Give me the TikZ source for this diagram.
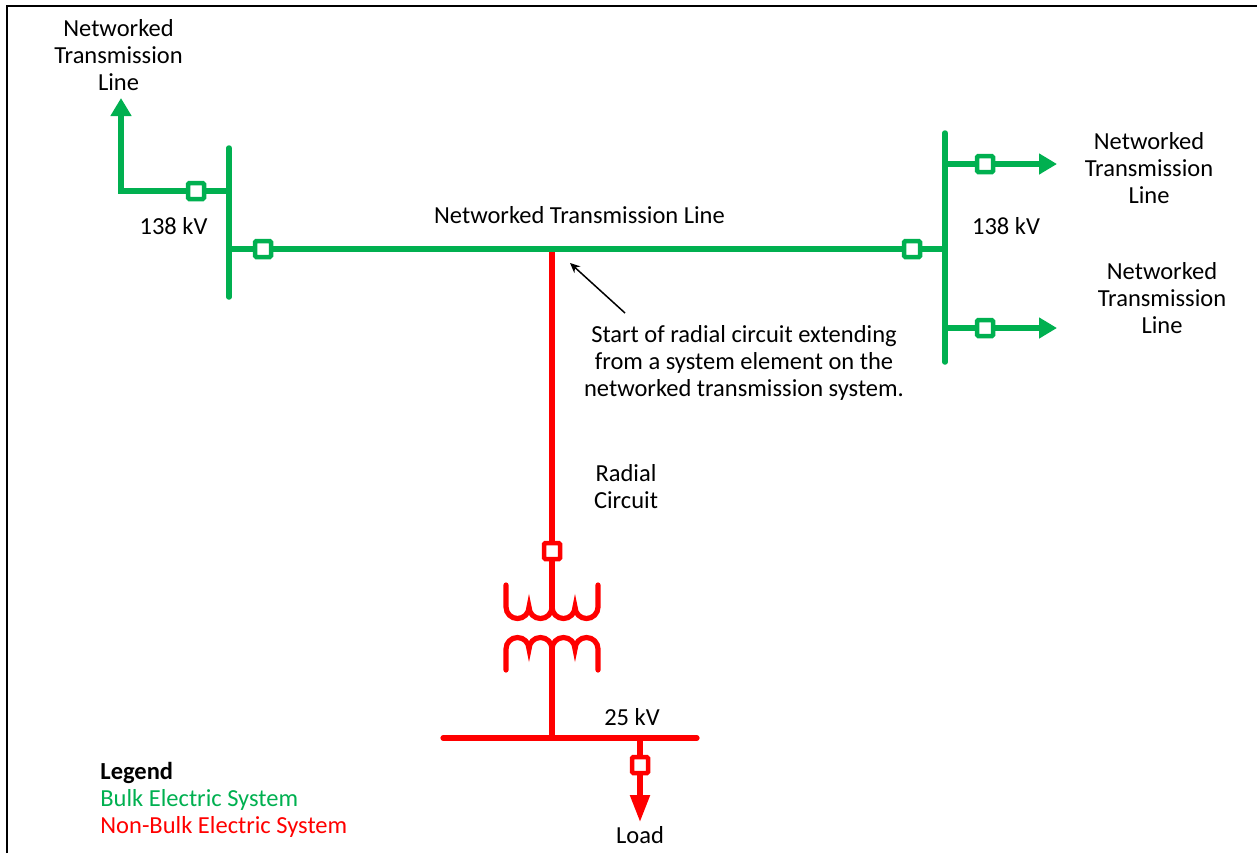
\documentclass[tikz,border=0pt]{standalone}
\usepackage{fontspec}
\setmainfont{Carlito}
\usetikzlibrary{arrows.meta}
\definecolor{besgreen}{RGB}{0,176,80}
\definecolor{nbesred}{RGB}{255,0,0}
\tikzset{>={Stealth[length=5pt,width=4.5pt]}}
\tikzset{
    bes/.style={besgreen, line width=2.75pt, line cap=round},
    nbes/.style={nbesred, line width=2.6pt, line cap=round},
    breaker/.style={rectangle, minimum size=8pt, inner sep=0pt,
        line width=2.25pt, rounded corners=0.6pt},
    gbreaker/.style={breaker, draw=besgreen, fill=white},
    rbreaker/.style={breaker, draw=nbesred, fill=white},
    gtip/.style={-{Triangle[length=9pt,width=10pt]}},
    rtip/.style={-{Triangle[length=13.5pt,width=9.5pt]}},
    lbl/.style={align=center, font=\fontsize{12.25}{13.5}\selectfont}
}

\begin{document}
\begin{tikzpicture}[x=0.5pt, y=-0.5pt]
    \useasboundingbox (0,0) rectangle (1257,853);
    \draw[line width=1.25pt] (7,853) -- (7,6) -- (1257,6);

    % buses and junction points
    \coordinate (lbtop) at (229,148);
    \coordinate (lbbot) at (229,297);
    \coordinate (rbtop) at (945,133);
    \coordinate (rbbot) at (945,362);
    \coordinate (lj1) at (229,191);
    \coordinate (lj2) at (229,249);
    \coordinate (rj1) at (945,164);
    \coordinate (rj2) at (945,249);
    \coordinate (rj3) at (945,328);
    \coordinate (tee) at (552,249);
    \coordinate (lcorner) at (121,191);
    \coordinate (lend) at (121,98);
    \coordinate (rend1) at (1057,164);
    \coordinate (rend3) at (1057,328);

    % radial circuit
    \coordinate (pcusp) at (552,607);
    \coordinate (scusp) at (552,649);
    \coordinate (lvtap) at (552,738);
    \coordinate (lvleft) at (443,738);
    \coordinate (lvright) at (697,738);
    \coordinate (loadtap) at (640,738);
    \coordinate (loadend) at (640,822);

    \node[rbreaker] (xbrk) at (552,551) {};
    \draw[nbes] (tee) -- (xbrk) -- (pcusp);
    \draw[nbes] (506,585) -- (506,607) arc(180:0:11.5) arc(180:0:11.5)
        arc(180:0:11.5) arc(180:0:11.5) -- (598,585);
    \draw[nbes] (506,670) -- (506,649) arc(180:360:11.5) arc(180:360:11.5)
        arc(180:360:11.5) arc(180:360:11.5) -- (598,670);
    \draw[nbes] (scusp) -- (lvtap);
    \draw[nbes] (lvleft) -- (lvright);
    \node[rbreaker] (ldbrk) at (640,765) {};
    \draw[nbes] (loadtap) -- (ldbrk);
    \draw[nbes, line cap=butt, rtip] (ldbrk) -- (loadend);

    % bulk system
    \draw[bes] (lbtop) -- (lbbot);
    \draw[bes] (rbtop) -- (rbbot);
    \node[gbreaker] (lbrk1) at (196,191) {};
    \node[gbreaker] (lbrk2) at (263,249) {};
    \node[gbreaker] (rbrk2) at (912,249) {};
    \node[gbreaker] (rbrk1) at (985,164) {};
    \node[gbreaker] (rbrk3) at (985,328) {};
    \draw[bes] (lj1) -- (lbrk1);
    \draw[bes, gtip] (lbrk1) -- (lcorner) -- (lend);
    \draw[bes] (lj2) -- (lbrk2) -- (rbrk2) -- (rj2);
    \draw[bes] (rj1) -- (rbrk1);
    \draw[bes, line cap=butt, gtip] (rbrk1) -- (rend1);
    \draw[bes] (rj3) -- (rbrk3);
    \draw[bes, line cap=butt, gtip] (rbrk3) -- (rend3);

    % labels
    \node[lbl] (ntl1) at (118.5,55) {Networked\\Transmission\\Line};
    \node[lbl] (ntl2) at (1149,168) {Networked\\Transmission\\Line};
    \node[lbl] (ntl3) at (1162,298) {Networked\\Transmission\\Line};
    \node[lbl] (ntlmain) at (579.5,215) {Networked Transmission Line};
    \node[lbl] (kvleft) at (173.5,226) {138 kV};
    \node[lbl] (kvright) at (1006,226) {138 kV};
    \node[lbl] (radial) at (626,487) {Radial\\Circuit};
    \node[lbl] (kvlow) at (632,717) {25 kV};
    \node[lbl] (load) at (640,835) {Load};
    \node[lbl] (note) at (744,363) {Start of radial circuit extending\\from a system element on the\\networked transmission system.};
    \coordinate (notetail) at (625,313);
    \coordinate (notehead) at (570,263);
    \draw[->, line width=0.75pt] (notetail) -- (notehead);

    % legend
    \node[lbl, anchor=west, align=left, inner sep=0pt] (legend) at (100,800)
        {\textbf{Legend}\\\textcolor{besgreen}{Bulk Electric System}\\\textcolor{nbesred}{Non-Bulk Electric System}};
\end{tikzpicture}
\end{document}
